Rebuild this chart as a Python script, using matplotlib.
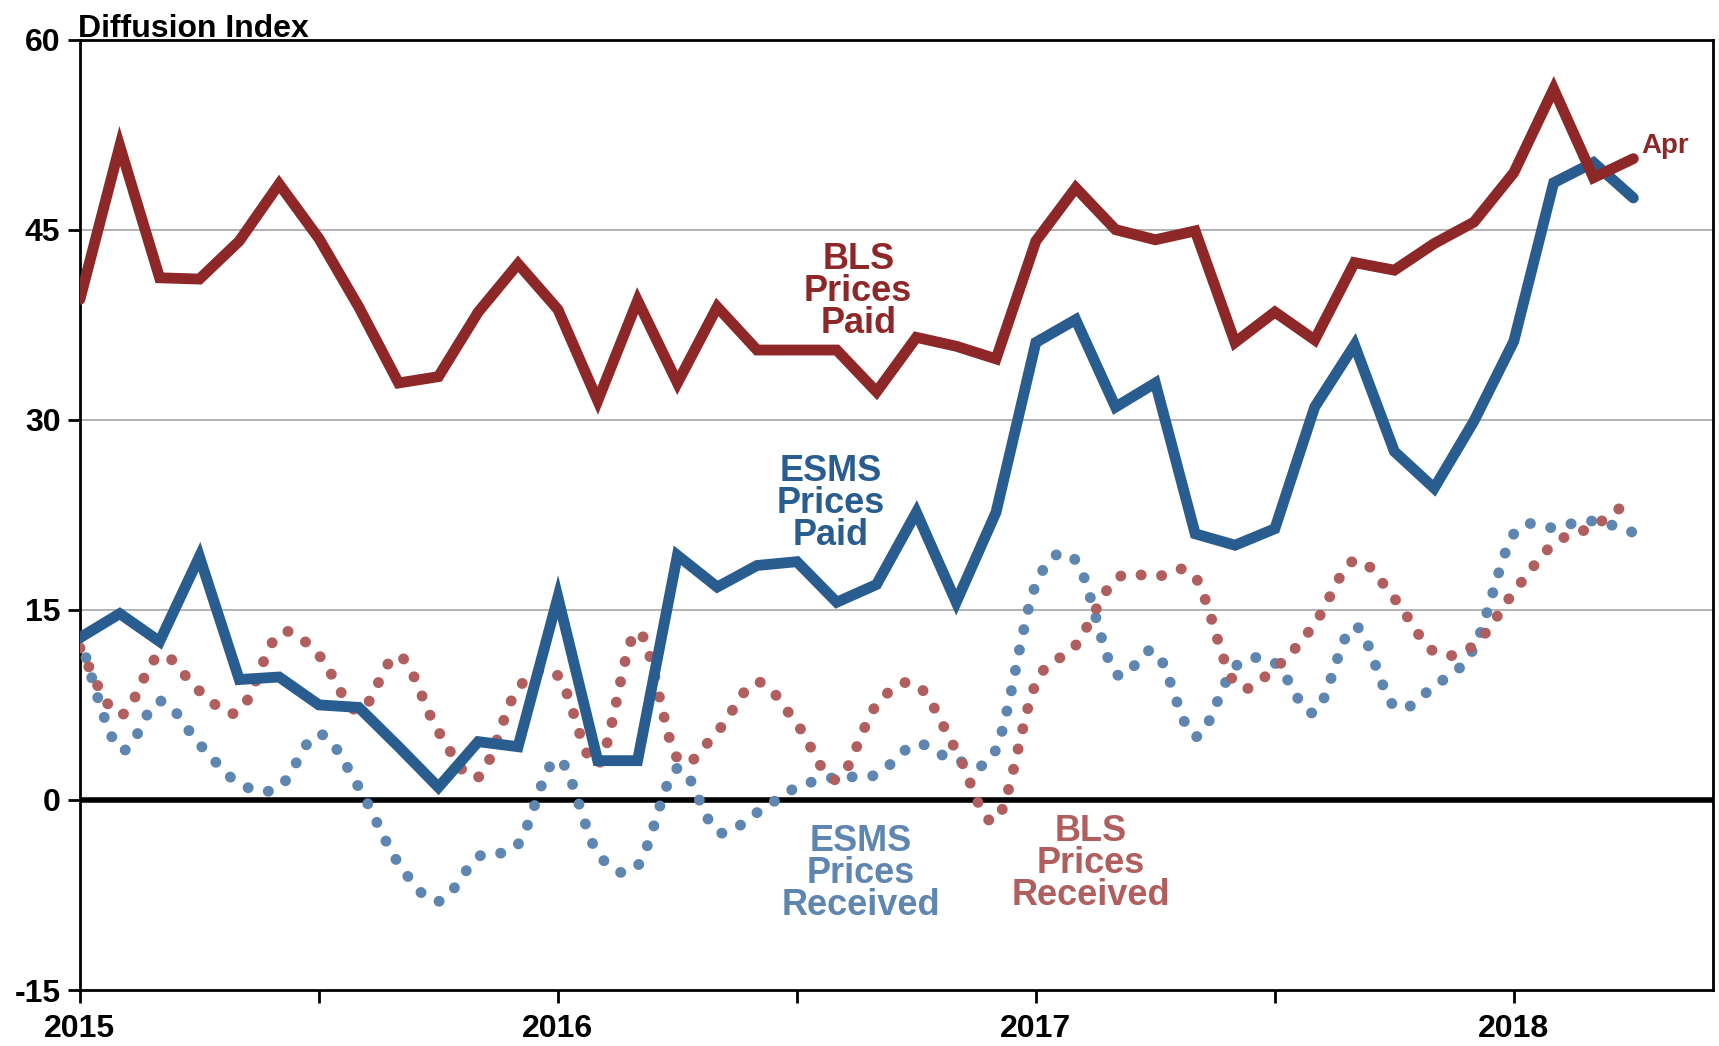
import numpy as np
import matplotlib
matplotlib.use('Agg')
import matplotlib.pyplot as plt
from matplotlib.path import Path
from matplotlib.patches import PathPatch

plt.rcParams['font.family'] = ['Liberation Sans', 'DejaVu Sans']
plt.rcParams['font.weight'] = 'bold'

# monthly data, Jan 2015 .. Apr 2018 (month index 0 = Jan 2015)
bls_paid = [39.5, 51.6, 41.2, 41.1, 44.1, 48.6, 44.3, 38.9, 32.9, 33.4,
            38.5, 42.3, 38.7, 31.5, 39.4, 32.9, 38.9, 35.5, 35.5, 35.5,
            32.2, 36.5, 35.8, 34.8, 44.1, 48.3, 45.0, 44.2, 44.9, 36.1,
            38.5, 36.3, 42.4, 41.8, 43.9, 45.6, 49.5, 56.1, 49.1, 50.6]
esms_paid = [12.8, 14.7, 12.5, 19.2, 9.5, 9.7, 7.5, 7.3, 4.2, 1.0,
             4.6, 4.2, 16.0, 3.1, 3.1, 19.3, 16.8, 18.5, 18.8, 15.6,
             17.0, 22.7, 15.6, 22.7, 36.1, 37.9, 31.0, 32.9, 21.0, 20.1,
             21.4, 31.0, 35.9, 27.5, 24.6, 29.9, 36.2, 48.7, 50.3, 47.5]
esms_recv = [12.8, 4.0, 7.8, 4.4, 1.3, 1.0, 5.2, 1.0, -5.0, -8.0,
             -4.5, -3.5, 3.2, -4.2, -5.2, 2.5, -2.5, -1.0, 1.0, 1.8,
             2.0, 4.4, 3.1, 4.0, 17.0, 18.9, 10.0, 11.7, 5.0, 10.5,
             10.8, 6.9, 13.7, 7.4, 9.0, 12.0, 21.0, 21.5, 22.0, 21.1]
bls_recv = [12.0, 6.7, 11.4, 8.6, 7.0, 13.1, 11.4, 7.0, 11.4, 5.4,
            1.8, 8.8, 9.8, 2.8, 13.3, 3.3, 5.4, 9.3, 6.0, 1.6,
            7.5, 9.1, 3.9, -1.6, 9.2, 12.2, 17.4, 17.6, 17.6, 9.2,
            10.4, 13.9, 18.9, 15.9, 11.7, 12.2, 16.4, 20.2, 21.6, 23.8]
months = np.arange(len(bls_paid))
year_labels = ['2015', '2016', '2017', '2018']

c_bls_paid = '#8E2828'
c_esms_paid = '#2A5D8F'
c_esms_recv = '#5E86B0'
c_bls_recv = '#B05E5E'


def smooth_path(x, y):
    # Excel-style smoothed line: bezier segments through every data point
    pts = np.column_stack([x, y]).astype(float)
    n = len(pts)
    verts = [pts[0]]
    codes = [Path.MOVETO]
    for i in range(n - 1):
        p0 = pts[max(i - 1, 0)]
        p1 = pts[i]
        p2 = pts[i + 1]
        p3 = pts[min(i + 2, n - 1)]
        verts += [p1 + (p2 - p0) / 6, p2 - (p3 - p1) / 6, p2]
        codes += [Path.CURVE4] * 3
    return Path(verts, codes)


fig = plt.figure(figsize=(17.19, 10.46), dpi=100)
ax = fig.add_axes([0.0465, 0.0535, 0.95, 0.9087])

ax.set_xlim(0, 41)
ax.set_ylim(-15, 60)

for val in [15, 30, 45]:
    ax.axhline(val, color='#A6A6A6', lw=1.2, zorder=1)
ax.axhline(0, color='black', lw=4, zorder=2)

for data, col in [(esms_recv, c_esms_recv), (bls_recv, c_bls_recv)]:
    patch = PathPatch(smooth_path(months, data), facecolor='none', edgecolor=col,
                      lw=7.8, linestyle=(0, (0.02, 1.9)), capstyle='round', zorder=3)
    ax.add_patch(patch)

ax.plot(months, esms_paid, color=c_esms_paid, lw=7.8, solid_joinstyle='miter',
        solid_capstyle='round', zorder=4)
ax.plot(months, bls_paid, color=c_bls_paid, lw=7.8, solid_joinstyle='miter',
        solid_capstyle='round', zorder=5)

lab = dict(ha='center', va='center', fontsize=26, fontweight='bold', linespacing=0.88)
ax.text(19.54, 40.1, 'BLS\nPrices\nPaid', color=c_bls_paid, **lab)
ax.text(18.85, 23.4, 'ESMS\nPrices\nPaid', color=c_esms_paid, **lab)
ax.text(19.6, -5.8, 'ESMS\nPrices\nReceived', color=c_esms_recv, **lab)
ax.text(25.38, -5.0, 'BLS\nPrices\nReceived', color=c_bls_recv, **lab)
ax.text(39.2, 51.6, 'Apr', color=c_bls_paid, ha='left', va='center',
        fontsize=20, fontweight='bold')

ax.set_yticks([-15, 0, 15, 30, 45, 60])
ax.set_yticklabels(['-15', '0', '15', '30', '45', '60'])
ax.set_xticks([0, 12, 24, 36])
ax.set_xticklabels(year_labels)
ax.set_xticks([6, 18, 30], minor=True)
ax.tick_params(axis='y', direction='out', length=9, width=2, labelsize=23, pad=5)
ax.tick_params(axis='x', which='both', direction='out', length=9, width=2,
               labelsize=23, pad=8)
for lbl in ax.get_xticklabels() + ax.get_yticklabels():
    lbl.set_fontweight('bold')

for sp in ax.spines.values():
    sp.set_linewidth(2)

fig.text(0.0455, 0.987, 'Diffusion Index', ha='left', va='top', fontsize=23,
         fontweight='bold')

fig.savefig('out.png', dpi=100)
